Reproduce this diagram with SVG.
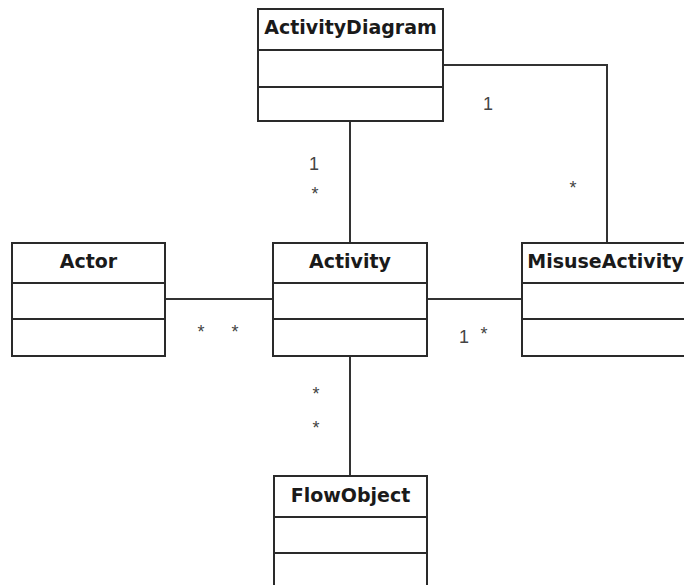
<svg xmlns="http://www.w3.org/2000/svg" width="684" height="585" viewBox="0 0 684 585">
  <style>
    .box { fill: #ffffff; stroke: #2a2a2a; stroke-width: 2; }
    .div { stroke: #2a2a2a; stroke-width: 2; }
    .title { font-family: "DejaVu Sans", Verdana, sans-serif; font-weight: bold; font-size: 19px; fill: #1a1a1a; text-anchor: middle; }
    .edge { fill: none; stroke: #333333; stroke-width: 2; }
    .mult { font-family: "Liberation Sans", Arial, sans-serif; font-size: 18px; fill: #444444; text-anchor: middle; }
  </style>
  <rect width="684" height="585" fill="#ffffff"/>

  <!-- associations -->
  <g id="connectors">
    <line class="edge" x1="350" y1="121" x2="350" y2="243"/>
    <polyline class="edge" points="443,65 607,65 607,243"/>
    <line class="edge" x1="165" y1="299" x2="273" y2="299"/>
    <line class="edge" x1="427" y1="299" x2="522" y2="299"/>
    <line class="edge" x1="350" y1="356" x2="350" y2="476"/>
    <text class="mult" x="314" y="170">1</text>
    <text class="mult" x="315" y="200">*</text>
    <text class="mult" x="488" y="110">1</text>
    <text class="mult" x="573" y="194">*</text>
    <text class="mult" x="201" y="338">*</text>
    <text class="mult" x="235" y="338">*</text>
    <text class="mult" x="464" y="343">1</text>
    <text class="mult" x="484" y="340">*</text>
    <text class="mult" x="316" y="400">*</text>
    <text class="mult" x="316" y="434">*</text>
  </g>

  <g id="ActivityDiagram">
    <rect class="box" x="258" y="9" width="185" height="112"/>
    <line class="div" x1="258" y1="50" x2="443" y2="50"/>
    <line class="div" x1="258" y1="87" x2="443" y2="87"/>
    <text class="title" x="350.5" y="34">ActivityDiagram</text>
  </g>

  <g id="Actor">
    <rect class="box" x="12" y="243" width="153" height="113"/>
    <line class="div" x1="12" y1="283" x2="165" y2="283"/>
    <line class="div" x1="12" y1="319" x2="165" y2="319"/>
    <text class="title" x="88.5" y="268">Actor</text>
  </g>

  <g id="Activity">
    <rect class="box" x="273" y="243" width="154" height="113"/>
    <line class="div" x1="273" y1="283" x2="427" y2="283"/>
    <line class="div" x1="273" y1="319" x2="427" y2="319"/>
    <text class="title" x="350" y="268">Activity</text>
  </g>

  <g id="MisuseActivity">
    <rect class="box" x="522" y="243" width="168" height="113"/>
    <line class="div" x1="522" y1="283" x2="690" y2="283"/>
    <line class="div" x1="522" y1="319" x2="690" y2="319"/>
    <text class="title" x="605.5" y="268">MisuseActivity</text>
  </g>

  <g id="FlowObject">
    <rect class="box" x="274" y="476" width="153" height="113"/>
    <line class="div" x1="274" y1="517" x2="427" y2="517"/>
    <line class="div" x1="274" y1="553" x2="427" y2="553"/>
    <text class="title" x="350.5" y="502">FlowObject</text>
  </g>
</svg>
